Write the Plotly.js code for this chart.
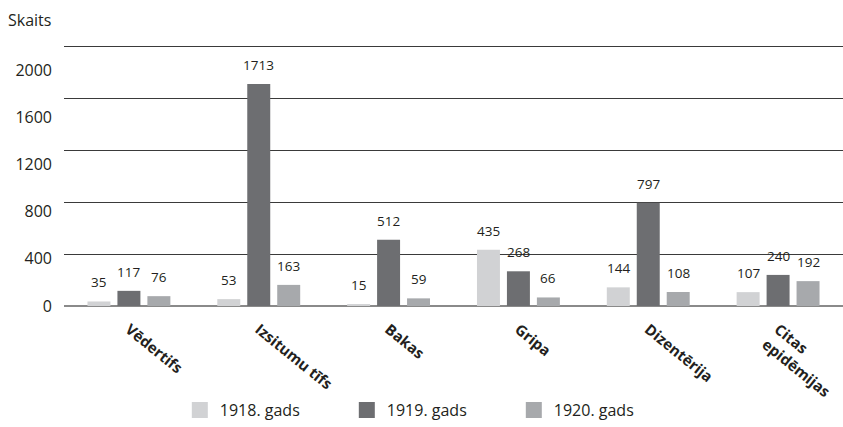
<!DOCTYPE html>
<html>
<head>
<meta charset="utf-8">
<script src="https://cdn.plot.ly/plotly-3.0.1.min.js"></script>
<style>html,body{margin:0;padding:0;background:#fff;}#chart{width:843px;height:427px;}</style>
</head>
<body>
<div id="chart"></div>
<script>
const categories = ["Vēdertifs", "Izsitumu tīfs", "Bakas", "Gripa", "Dizentērija", "Citas<br>epidēmijas"];
const seriesNames = ["1918. gads", "1919. gads", "1920. gads"];
const values1918 = [35, 53, 15, 435, 144, 107];
const values1919 = [117, 1713, 512, 268, 797, 240];
const values1920 = [76, 163, 59, 66, 108, 192];
const yTicks = [0, 400, 800, 1200, 1600, 2000];
const yTickLabels = ["0", "400", "800", "1200", "1600", "2000"];
const colors = ["#d1d2d4", "#6d6e71", "#a7a9ac"];
const allValues = [values1918, values1919, values1920];

const textColor = "#231f20";
const FONT = "Open Sans, sans-serif";

const traces = [];
allValues.forEach((vals, j) => {
  traces.push({
    type: "bar", x: categories, y: vals, name: seriesNames[j],
    marker: {color: colors[j]}, showlegend: false, hoverinfo: "skip"
  });
});
// legend entries (square markers)
allValues.forEach((vals, j) => {
  traces.push({
    type: "scatter", mode: "markers", x: [null], y: [null], yaxis: "y2",
    name: seriesNames[j], marker: {symbol: "square", size: 16, color: colors[j]},
    showlegend: true, hoverinfo: "skip"
  });
});

const marginL = 64, marginR = 0;
const plotW = 843 - marginL - marginR;
const bargap = 0.3077, bargroupgap = 0.233;
const pitch = plotW / categories.length;
const slot = pitch * (1 - bargap) / 3;

const yTop = 2015;
const annotations = [];
allValues.forEach((vals, j) => {
  vals.forEach((v, i) => {
    annotations.push({
      x: categories[i], y: v, xref: "x", yref: "y",
      xshift: (j - 1) * slot, yshift: 8,
      text: String(v), showarrow: false, yanchor: "bottom",
      font: {family: FONT, size: 13.5, color: textColor}
    });
  });
});
annotations.push({
  text: "Skaits", xref: "paper", yref: "paper", x: 0, y: 1,
  xanchor: "left", yanchor: "bottom", showarrow: false,
  xshift: -58, yshift: 12,
  font: {family: FONT, size: 16, color: textColor}
});

const layout = {
  width: 843, height: 427,
  margin: {l: marginL, r: marginR, t: 45, b: 121, pad: 0},
  paper_bgcolor: "#fff", plot_bgcolor: "#fff",
  barmode: "group", bargap: bargap, bargroupgap: bargroupgap,
  showlegend: true,
  font: {family: FONT, color: textColor},
  xaxis: {
    type: "category", tickangle: 39, ticks: "", showgrid: false,
    ticklabelstandoff: 11,
    tickfont: {family: FONT, size: 15, color: textColor, weight: "bold"},
    showline: false, zeroline: false
  },
  yaxis: {
    range: [0, yTop], tickvals: yTicks, showticklabels: false,
    showgrid: true, gridcolor: "#3a3a3a", gridwidth: 1,
    zeroline: true, zerolinecolor: "#8a8a8a", zerolinewidth: 2,
    ticks: "", showline: false
  },
  yaxis2: {
    overlaying: "y", side: "left", anchor: "x",
    range: [0, yTop * 259 / 235.7], tickvals: yTicks, ticktext: yTickLabels,
    showgrid: false, zeroline: false, ticks: "", showline: false,
    ticklabelstandoff: 11,
    tickfont: {family: FONT, size: 16, color: textColor}
  },
  legend: {
    orientation: "h", xref: "container", yref: "container",
    x: 0.2133, xanchor: "left", y: -0.007, yanchor: "bottom",
    entrywidth: 122, entrywidthmode: "pixels",
    font: {family: FONT, size: 16, color: textColor},
    bgcolor: "rgba(0,0,0,0)"
  },
  annotations: annotations
};

Plotly.newPlot("chart", traces, layout, {displayModeBar: false, staticPlot: true});
</script>
</body>
</html>
